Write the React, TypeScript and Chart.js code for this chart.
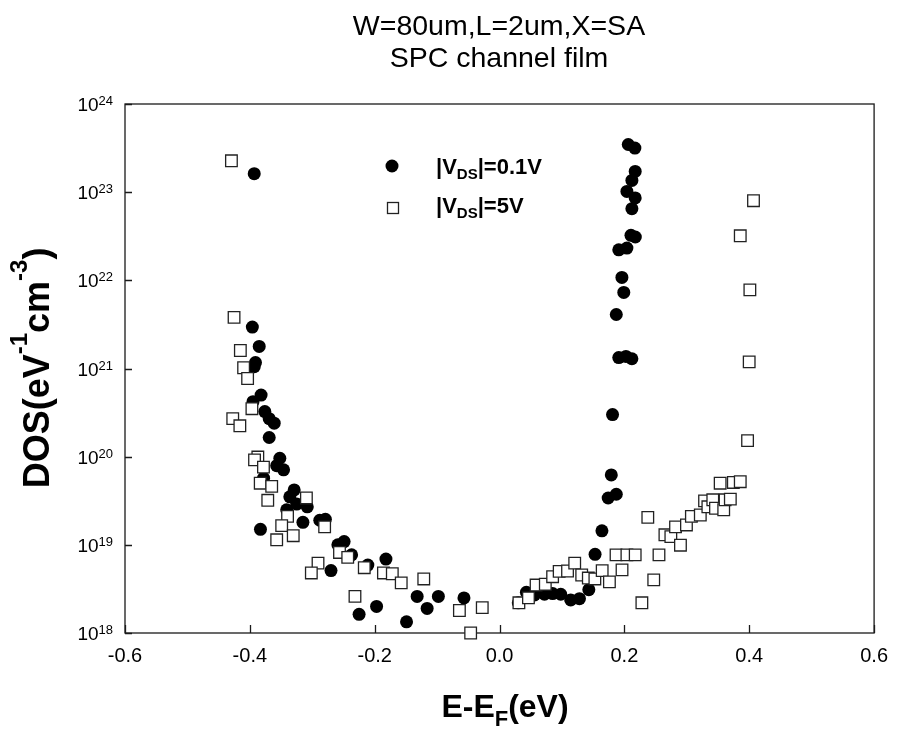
import React, { useEffect, useRef } from "react";
import { Chart, registerables } from "chart.js";

Chart.register(...registerables);

const FONT = "'Liberation Sans', Arial, Helvetica, sans-serif";

const titleLines = ["W=80um,L=2um,X=SA", "SPC channel film"];
const xTicks = [-0.6, -0.4, -0.2, 0.0, 0.2, 0.4, 0.6];
const yExponents = [18, 19, 20, 21, 22, 23, 24];

// |VDS| = 0.1 V  (filled circles)
const lowVdsE = [
  -0.393, -0.396, -0.385, -0.391, -0.393, -0.382, -0.395, -0.376, -0.369, -0.361,
  -0.369, -0.352, -0.357, -0.346, -0.378, -0.329, -0.336, -0.325, -0.308, -0.341,
  -0.315, -0.383, -0.288, -0.279, -0.249, -0.259, -0.237, -0.27, -0.211, -0.182,
  -0.225, -0.197, -0.149, -0.132, -0.116, -0.098, -0.057,
  0.03, 0.043, 0.056, 0.072, 0.085, 0.098, 0.114, 0.128, 0.143, 0.153,
  0.164, 0.174, 0.187, 0.179, 0.181, 0.187, 0.191, 0.2025, 0.212, 0.199,
  0.196, 0.191, 0.204, 0.2105, 0.2175, 0.212, 0.2173, 0.204, 0.212, 0.2173,
  0.2062, 0.2168,
];
const lowVdsDos = [
  1.62e23, 2.95e21, 1.78e21, 1.17e21, 1.05e21, 5.0e20, 4.2e20, 3.25e20, 2.7e20, 2.4e20,
  1.65e20, 9.6e19, 7.9e19, 7.1e19, 5.7e19, 4.2e19, 3.5e19, 2.9e19, 2.7e19, 2.5e19,
  1.8e19, 1.5e19, 1.9e19, 1.95e19, 1.09e19, 1.0e19, 7.7e18, 5.1e18, 5.9e18, 6.9e18,
  1.63e18, 2.0e18, 1.34e18, 2.6e18, 1.9e18, 2.6e18, 2.5e18,
  2.2e18, 2.9e18, 2.7e18, 2.75e18, 2.8e18, 2.75e18, 2.37e18, 2.45e18, 3.1e18, 7.8e18,
  1.44e19, 3.4e19, 3.75e19, 6.2e19, 3.0e20, 4.1e21, 1.33e21, 1.37e21, 1.29e21, 7.3e21,
  1.08e22, 2.22e22, 2.32e22, 3.24e22, 3.1e22, 6.5e22, 8.6e22, 1.02e23, 1.36e23, 1.72e23,
  3.47e23, 3.16e23,
];

// |VDS| = 5 V  (open squares)
const highVdsE = [
  -0.4295, -0.4253, -0.4152, -0.41, -0.4036, -0.3967, -0.4274, -0.416, -0.3872, -0.3925,
  -0.3782, -0.3834, -0.365, -0.3713, -0.3094, -0.3396, -0.349, -0.3305, -0.357, -0.2802,
  -0.2564, -0.2432, -0.2908, -0.3015, -0.2167, -0.186, -0.1718, -0.1575, -0.1214, -0.2316,
  -0.0643, -0.0277, -0.0463,
  0.031, 0.0463, 0.0585, 0.0733, 0.085, 0.0955, 0.1089, 0.1204, 0.1316, 0.1422,
  0.1527, 0.1644, 0.176, 0.1866, 0.204, 0.2173, 0.1962, 0.228, 0.247, 0.2554,
  0.2375, 0.2649, 0.2744, 0.2898, 0.2819, 0.2994, 0.3073, 0.3216, 0.3284, 0.3337,
  0.3416, 0.3459, 0.3591, 0.3613, 0.3697, 0.3534, 0.3745, 0.3856, 0.3973, 0.3999,
  0.401, 0.3856, 0.4068,
];
const highVdsDos = [
  2.27e23, 3.8e21, 1.6e21, 1.02e21, 7.7e20, 3.5e20, 2.7e20, 2.24e20, 9.9e19, 9.2e19,
  7.6e19, 5.0e19, 4.6e19, 3.2e19, 3.4e19, 2.1e19, 1.65e19, 1.27e19, 1.14e19, 1.6e19,
  8.2e18, 7.2e18, 6.2e18, 4.8e18, 5.5e18, 4.8e18, 4.7e18, 3.7e18, 4.1e18, 2.6e18,
  1.8e18, 1.94e18, 1.0e18,
  2.2e18, 2.5e18, 3.5e18, 3.57e18, 4.35e18, 5.0e18, 5.05e18, 6.2e18, 4.55e18, 4.2e18,
  4.1e18, 5.1e18, 3.8e18, 7.7e18, 7.7e18, 7.7e18, 5.2e18, 2.2e18, 4.0e18, 7.7e18,
  2.05e19, 1.3e19, 1.24e19, 9.9e18, 1.6e19, 1.68e19, 2.1e19, 2.18e19, 3.15e19, 2.7e19,
  3.24e19, 2.6e19, 2.5e19, 3.24e19, 3.3e19, 5.0e19, 5.1e19, 5.2e19, 1.52e20, 1.19e21,
  7.8e21, 3.2e22, 8.0e22,
];

type Seg = { t: string; size: number; dy: number };

function segsWidth(ctx: CanvasRenderingContext2D, segs: Seg[], weight: string) {
  let w = 0;
  for (const s of segs) {
    ctx.font = `${weight} ${s.size}px ${FONT}`;
    w += ctx.measureText(s.t).width;
  }
  return w;
}

function drawSegs(ctx: CanvasRenderingContext2D, segs: Seg[], x: number, y: number, weight: string) {
  let cx = x;
  for (const s of segs) {
    ctx.font = `${weight} ${s.size}px ${FONT}`;
    ctx.fillText(s.t, cx, y + s.dy);
    cx += ctx.measureText(s.t).width;
  }
}

const framePlugin = {
  id: "frame",
  beforeDatasetsDraw(chart: any) {
    const { ctx, chartArea: a, scales } = chart;
    ctx.save();
    ctx.strokeStyle = "#1a1a1a";
    ctx.lineWidth = 1.3;
    ctx.strokeRect(a.left, a.top, a.right - a.left, a.bottom - a.top);
    ctx.beginPath();
    xTicks.forEach((v) => {
      const px = Math.round(scales.x.getPixelForValue(v)) + 0.5;
      ctx.moveTo(px, a.bottom);
      ctx.lineTo(px, a.bottom - 8);
    });
    yExponents.forEach((e) => {
      const py = Math.round(scales.y.getPixelForValue(Math.pow(10, e))) + 0.5;
      ctx.moveTo(a.left, py);
      ctx.lineTo(a.left + 7, py);
    });
    ctx.stroke();
    ctx.restore();
  },
  afterDraw(chart: any) {
    const { ctx, scales } = chart;
    ctx.save();
    ctx.fillStyle = "#000";
    ctx.textBaseline = "alphabetic";

    // Title
    ctx.textAlign = "center";
    ctx.font = `normal 28.5px ${FONT}`;
    const cx = 499;
    ctx.fillText(titleLines[0], cx, 35);
    ctx.fillText(titleLines[1], cx, 67);

    // Y tick labels 10^n
    ctx.textAlign = "left";
    yExponents.forEach((e) => {
      const py = scales.y.getPixelForValue(Math.pow(10, e));
      const segs: Seg[] = [
        { t: "10", size: 19, dy: 0 },
        { t: String(e), size: 13, dy: -6 },
      ];
      const w = segsWidth(ctx, segs, "normal");
      drawSegs(ctx, segs, 113 - w, py + 7, "normal");
    });

    // Y axis title
    ctx.save();
    ctx.translate(49, 368);
    ctx.rotate(-Math.PI / 2);
    const ySegs: Seg[] = [
      { t: "DOS(eV", size: 36, dy: 0 },
      { t: "-1", size: 24, dy: -22 },
      { t: "cm", size: 36, dy: 0 },
      { t: "-3", size: 24, dy: -22 },
      { t: ")", size: 36, dy: 0 },
    ];
    const yw = segsWidth(ctx, ySegs, "bold");
    drawSegs(ctx, ySegs, -yw / 2, 0, "bold");
    ctx.restore();

    // X axis title
    const xSegs: Seg[] = [
      { t: "E-E", size: 32, dy: 0 },
      { t: "F", size: 22, dy: 9 },
      { t: "(eV)", size: 32, dy: 0 },
    ];
    const xw = segsWidth(ctx, xSegs, "bold");
    drawSegs(ctx, xSegs, 505 - xw / 2, 717, "bold");

    // Legend
    ctx.fillStyle = "#000";
    ctx.beginPath();
    ctx.arc(392, 166, 6.5, 0, Math.PI * 2);
    ctx.fill();
    ctx.fillStyle = "#fff";
    ctx.strokeStyle = "#222";
    ctx.lineWidth = 1.3;
    ctx.fillRect(387.5, 202.5, 11, 11);
    ctx.strokeRect(387.5, 202.5, 11, 11);
    ctx.fillStyle = "#000";
    const leg1: Seg[] = [
      { t: "|V", size: 22, dy: 0 },
      { t: "DS", size: 15, dy: 5 },
      { t: "|=0.1V", size: 22, dy: 0 },
    ];
    const leg2: Seg[] = [
      { t: "|V", size: 22, dy: 0 },
      { t: "DS", size: 15, dy: 5 },
      { t: "|=5V", size: 22, dy: 0 },
    ];
    drawSegs(ctx, leg1, 436, 174, "bold");
    drawSegs(ctx, leg2, 436, 213, "bold");
    ctx.restore();
  },
};

export default function App() {
  const canvasRef = useRef<HTMLCanvasElement | null>(null);

  useEffect(() => {
    const canvas = canvasRef.current;
    if (!canvas) return;
    const lowData = lowVdsE.map((e, i) => ({ x: e, y: lowVdsDos[i] }));
    const highData = highVdsE.map((e, i) => ({ x: e, y: highVdsDos[i] }));

    const chart = new Chart(canvas, {
      type: "scatter",
      data: {
        datasets: [
          {
            label: "|VDS|=5V",
            data: highData,
            order: 0,
            pointStyle: "rect",
            pointRadius: 8.2,
            pointBackgroundColor: "#ffffff",
            pointBorderColor: "#222222",
            pointBorderWidth: 1.3,
            clip: false,
          } as any,
          {
            label: "|VDS|=0.1V",
            data: lowData,
            order: 1,
            pointStyle: "circle",
            pointRadius: 6.5,
            pointBackgroundColor: "#000000",
            pointBorderColor: "#000000",
            pointBorderWidth: 0,
            clip: false,
          } as any,
        ],
      },
      options: {
        responsive: false,
        animation: false,
        devicePixelRatio: 1,
        layout: { padding: { left: 0, top: 104, right: 18, bottom: 0 } },
        plugins: {
          legend: { display: false },
          title: { display: false },
          tooltip: { enabled: false },
        },
        events: [],
        scales: {
          x: {
            type: "linear",
            min: -0.6,
            max: 0.6,
            afterBuildTicks: (s: any) => {
              s.ticks = xTicks.map((v) => ({ value: v }));
            },
            ticks: {
              callback: (v: any) => Number(v).toFixed(1),
              font: { family: FONT, size: 20 },
              color: "#000",
              padding: 11,
              maxRotation: 0,
            },
            grid: { display: false, drawTicks: false },
            border: { display: false },
            afterFit: (s: any) => {
              s.height = 96;
            },
          },
          y: {
            type: "logarithmic",
            min: 1e18,
            max: 1e24,
            afterBuildTicks: (s: any) => {
              s.ticks = yExponents.map((e) => ({ value: Math.pow(10, e) }));
            },
            ticks: { display: false },
            grid: { display: false, drawTicks: false },
            border: { display: false },
            afterFit: (s: any) => {
              s.width = 125;
            },
          },
        },
      } as any,
      plugins: [framePlugin],
    });

    return () => chart.destroy();
  }, []);

  return (
    <div style={{ position: "absolute", left: 0, top: 0, width: 899, height: 729, background: "#fff" }}>
      <canvas ref={canvasRef} width={899} height={729} style={{ width: 899, height: 729, display: "block" }} />
    </div>
  );
}
